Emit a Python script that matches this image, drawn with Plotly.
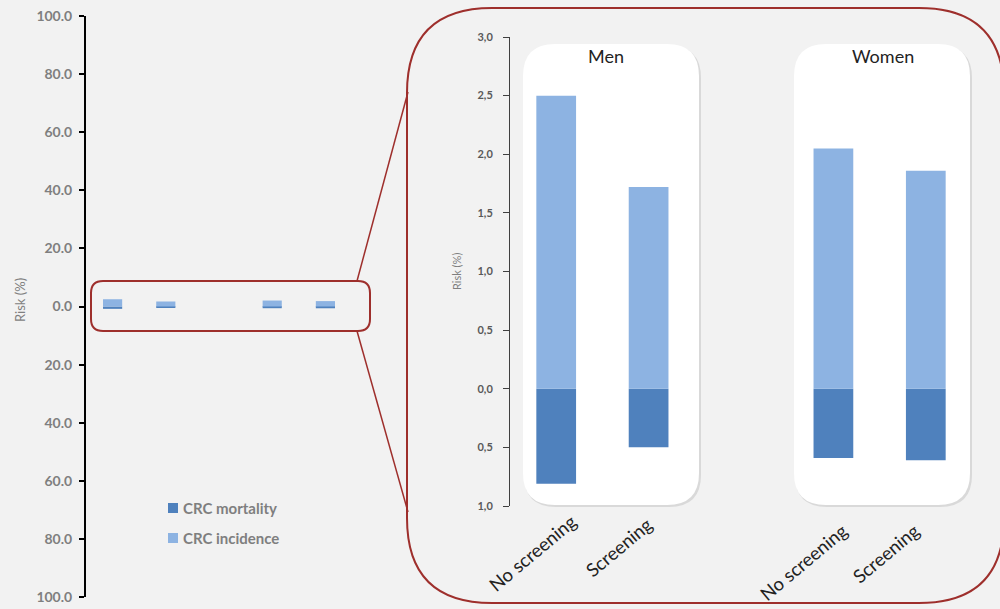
import plotly.graph_objects as go

# ---- data -------------------------------------------------------------
categories = ["No screening", "Screening", "", "No screening ", "Screening "]
incidence = [2.50, 1.72, None, 2.05, 1.86]      # CRC incidence (%)
mortality = [0.81, 0.50, None, 0.59, 0.61]      # CRC mortality (%), drawn downward
groups = ["Men", "Women"]

left_ticks = [-100, -80, -60, -40, -20, 0, 20, 40, 60, 80, 100]
right_ticks = [-1.0, -0.5, 0.0, 0.5, 1.0, 1.5, 2.0, 2.5, 3.0]

C_MORT = "#4F81BD"
C_INC = "#8DB3E2"
RED = "#9E2F2C"
BG = "#F2F2F2"
FONT = "Lato"

W, H = 1000, 609

# placement of the slanted category labels (pixel nudges, top-right anchored)
label_dx = [27, 11, 0, 21, 1]
label_top = [507, 510, 0, 516, 516]


def px(x):
    return x / W


def py(y):
    return 1 - y / H


def rrect(x0, y0, x1, y1, r):
    """Rounded rectangle path in paper coordinates from pixel corners."""
    def P(x, y):
        return f"{px(x):.5f},{py(y):.5f}"
    pts = [
        f"M {P(x0 + r, y0)}",
        f"L {P(x1 - r, y0)}",
        f"Q {P(x1, y0)} {P(x1, y0 + r)}",
        f"L {P(x1, y1 - r)}",
        f"Q {P(x1, y1)} {P(x1 - r, y1)}",
        f"L {P(x0 + r, y1)}",
        f"Q {P(x0, y1)} {P(x0, y1 - r)}",
        f"L {P(x0, y0 + r)}",
        f"Q {P(x0, y0)} {P(x0 + r, y0)} Z",
    ]
    return " ".join(pts)


neg_mort = [(-v if v is not None else None) for v in mortality]
cat_range = [-0.5, len(categories) - 0.5]

fig = go.Figure()

bar_style = dict(marker_line_width=0, showlegend=False, hoverinfo="skip")

# overview chart (left), same values on a 0-100 % scale
fig.add_trace(go.Bar(x=categories, y=neg_mort, marker_color=C_MORT, width=0.36,
                     name="CRC mortality", xaxis="x", yaxis="y", **bar_style))
fig.add_trace(go.Bar(x=categories, y=incidence, marker_color=C_INC, width=0.36,
                     name="CRC incidence", xaxis="x", yaxis="y", **bar_style))

# zoomed chart (right)
fig.add_trace(go.Bar(x=categories, y=neg_mort, marker_color=C_MORT, width=0.43,
                     xaxis="x2", yaxis="y2", **bar_style))
fig.add_trace(go.Bar(x=categories, y=incidence, marker_color=C_INC, width=0.43,
                     xaxis="x2", yaxis="y2", **bar_style))

shapes = []
# big callout frame
shapes.append(dict(type="path", xref="paper", yref="paper",
                   path=rrect(407, 8, 1004, 603, 85),
                   line=dict(color=RED, width=2), fillcolor=BG, layer="below"))
# white panels with soft shadow
for (x0, x1) in [(523, 699), (794, 970)]:
    shapes.append(dict(type="path", xref="paper", yref="paper",
                       path=rrect(x0 + 1, 46, x1 + 2, 507, 32),
                       line=dict(width=0), fillcolor="#D9D9D9", layer="below"))
    shapes.append(dict(type="path", xref="paper", yref="paper",
                       path=rrect(x0, 44, x1, 505, 32),
                       line=dict(width=0), fillcolor="white", layer="below"))
# small highlight frame
shapes.append(dict(type="path", xref="paper", yref="paper",
                   path=rrect(91, 281, 370, 331, 12),
                   line=dict(color=RED, width=2), layer="above"))
# connector lines
shapes.append(dict(type="line", xref="paper", yref="paper",
                   x0=px(357), y0=py(281), x1=px(408), y1=py(92),
                   line=dict(color=RED, width=1.5)))
shapes.append(dict(type="line", xref="paper", yref="paper",
                   x0=px(357), y0=py(331), x1=px(408), y1=py(512),
                   line=dict(color=RED, width=1.5)))
# legend swatches
shapes.append(dict(type="rect", xref="paper", yref="paper",
                   x0=px(168), x1=px(178), y0=py(513), y1=py(503),
                   fillcolor=C_MORT, line=dict(width=0)))
shapes.append(dict(type="rect", xref="paper", yref="paper",
                   x0=px(168), x1=px(178), y0=py(543), y1=py(533),
                   fillcolor=C_INC, line=dict(width=0)))

annotations = [
    dict(text="CRC mortality", x=px(181), y=py(508), xref="paper", yref="paper",
         xanchor="left", yanchor="middle", showarrow=False,
         font=dict(family=FONT, size=15, color="#7F7F7F", weight="bold")),
    dict(text="CRC incidence", x=px(181), y=py(538), xref="paper", yref="paper",
         xanchor="left", yanchor="middle", showarrow=False,
         font=dict(family=FONT, size=15, color="#7F7F7F", weight="bold")),
    dict(text="Risk (%)", x=px(20), y=py(300), xref="paper", yref="paper",
         textangle=-90, showarrow=False, xanchor="center", yanchor="middle",
         font=dict(family=FONT, size=13, color="#7F7F7F")),
    dict(text="Risk (%)", x=px(456), y=py(272), xref="paper", yref="paper",
         textangle=-90, showarrow=False, xanchor="center", yanchor="middle",
         font=dict(family=FONT, size=11, color="#7F7F7F")),
]
for g, xc in zip(groups, [606, 883]):
    annotations.append(dict(text=g, x=px(xc), y=py(56), xref="paper", yref="paper",
                            showarrow=False, xanchor="center", yanchor="middle",
                            font=dict(family=FONT, size=18, color="#222222")))

# slanted category labels under the zoomed chart
for i, (cat, dx, top) in enumerate(zip(categories, label_dx, label_top)):
    if not cat:
        continue
    annotations.append(dict(text=cat.strip(), x=i, xref="x2", y=py(top), yref="paper",
                            xshift=dx, textangle=-40, showarrow=False,
                            xanchor="right", yanchor="top",
                            font=dict(family=FONT, size=18.5, color="#222222")))

fig.update_layout(
    width=W, height=H,
    margin=dict(l=0, r=0, t=0, b=0, autoexpand=False),
    paper_bgcolor=BG, plot_bgcolor="rgba(0,0,0,0)",
    barmode="relative", bargap=0.5,
    showlegend=False,
    shapes=shapes, annotations=annotations,
    xaxis=dict(domain=[px(86), px(352)], showticklabels=False, showline=False,
               showgrid=False, zeroline=False, ticks="", type="category",
               categoryarray=categories, range=cat_range, automargin=False),
    yaxis=dict(domain=[py(597), py(16)], range=[-100, 100], tickvals=left_ticks,
               ticktext=[f"{abs(v):.1f}" for v in left_ticks],
               showline=True, linecolor="black", linewidth=2, ticks="outside",
               ticklen=5, tickwidth=2, tickcolor="black", showgrid=False,
               zeroline=False, anchor="x", automargin=False, ticklabelstandoff=4,
               tickfont=dict(family=FONT, size=14, color="#7F7F7F", weight="bold")),
    xaxis2=dict(domain=[px(510), px(972)], showline=False, showgrid=False,
                zeroline=False, ticks="", type="category", categoryarray=categories,
                range=cat_range, showticklabels=False, anchor="y2", automargin=False),
    yaxis2=dict(domain=[py(506), py(37)], range=[-1, 3], tickvals=right_ticks,
                ticktext=[f"{abs(v):.1f}".replace(".", ",") for v in right_ticks],
                showline=True, linecolor="#404040", linewidth=1, ticks="outside",
                ticklen=6, tickwidth=1, tickcolor="#404040", showgrid=False,
                zeroline=False, anchor="x2", automargin=False, ticklabelstandoff=8,
                tickfont=dict(family=FONT, size=11, color="#595959", weight="bold")),
)

fig.write_html("out.html")
